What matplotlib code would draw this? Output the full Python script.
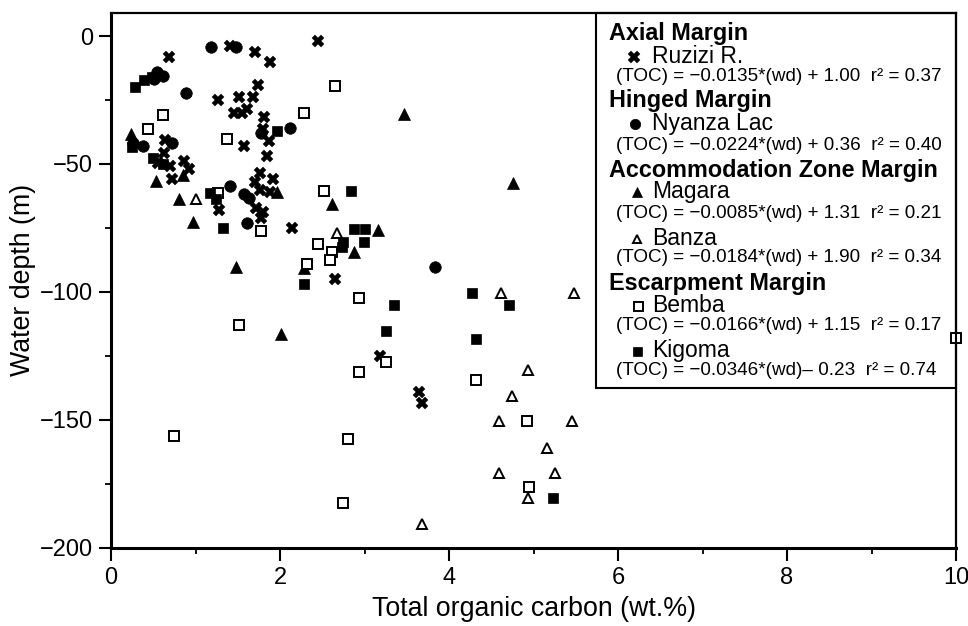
import numpy as np
import matplotlib
matplotlib.use("Agg")
import matplotlib.pyplot as plt
from matplotlib.patches import Rectangle

plt.rcParams['font.family'] = ['Liberation Sans', 'DejaVu Sans']

# TOC (wt.%) and water depth (m) per site
ruzizi_toc = [1.41, 1.70, 1.88, 0.69, 2.45, 1.74, 1.27, 1.51, 1.68, 1.45, 1.55, 1.61, 1.81,
              0.64, 0.63, 0.56, 0.70, 0.86, 0.92, 0.72, 1.57, 1.87, 1.85, 1.80, 1.76, 1.70,
              1.76, 1.92, 1.88, 1.72, 1.80, 1.78, 1.28, 2.14, 2.65, 3.18, 3.64, 3.68]
ruzizi_wd = [-4, -6.2, -10, -8.2, -2, -19.3, -25.2, -24, -24, -30, -30, -28.5, -31.6,
             -40.8, -45.8, -49.7, -51, -49, -52, -56, -43.2, -41, -46.9, -36.3, -53.7, -57,
             -60.2, -56, -60.9, -67.4, -68.7, -71.3, -68, -75.2, -95.1, -125.2, -139.3, -143.5]

nyanza_toc = [1.18, 1.48, 0.54, 0.51, 0.61, 0.89, 2.12, 0.26, 0.38, 0.72, 1.41, 1.57,
              1.63, 1.61, 3.83, 1.78]
nyanza_wd = [-4.4, -4.4, -14.2, -17, -15.5, -22.4, -36, -41.9, -43, -41.9, -58.5, -61.8,
             -63.5, -73.3, -90.5, -38]

magara_toc = [0.24, 0.53, 0.85, 0.80, 0.97, 1.96, 2.62, 3.16, 2.87, 2.28, 1.48, 2.01, 3.47, 4.76]
magara_wd = [-38.2, -56.7, -54.3, -63.9, -72.6, -60.9, -65.7, -75.9, -84.6, -90.9, -90.5,
             -116.4, -30.5, -57.6]

banza_toc = [1.01, 2.68, 4.62, 5.48, 4.94, 4.75, 4.59, 5.46, 5.16, 4.59, 5.26, 4.93, 3.68]
banza_wd = [-63.7, -77.2, -100.5, -100.5, -130.5, -140.6, -150.7, -150.7, -160.9, -170.7,
            -170.7, -180.5, -190.7]

bemba_toc = [0.61, 0.44, 1.37, 1.27, 1.77, 2.65, 2.28, 2.52, 2.45, 2.61, 2.59, 2.32, 2.93,
             1.51, 3.25, 2.93, 4.32, 4.92, 2.80, 0.74, 4.95, 2.74, 10.0]
bemba_wd = [-31, -36.4, -40.2, -61.3, -76.3, -19.4, -30.1, -60.5, -81.5, -84.4, -87.4, -89.3,
            -102.3, -113.1, -127.5, -131.5, -134.4, -150.7, -157.6, -156.3, -176.5, -182.7, -118.2]

kigoma_toc = [0.28, 0.39, 0.48, 0.25, 0.50, 0.62, 1.96, 1.17, 1.24, 1.33, 2.84, 2.88, 3.01,
              2.74, 2.73, 2.99, 2.28, 3.35, 4.27, 3.25, 4.32, 4.71, 5.23]
kigoma_wd = [-20, -17.3, -16, -43.5, -47.8, -50.1, -37.3, -61.3, -63.9, -75.2, -60.5, -75.6,
             -75.6, -80.5, -82.4, -80.5, -97, -105.3, -100.3, -115.4, -118.6, -105.3, -180.5]

# legend text
headers = ['Axial Margin', 'Hinged Margin', 'Accommodation Zone Margin', 'Escarpment Margin']
sites = ['Ruzizi R.', 'Nyanza Lac', 'Magara', 'Banza', 'Bemba', 'Kigoma']
equations = ['(TOC) = \u22120.0135*(wd) + 1.00  r\u00b2 = 0.37',
             '(TOC) = \u22120.0224*(wd) + 0.36  r\u00b2 = 0.40',
             '(TOC) = \u22120.0085*(wd) + 1.31  r\u00b2 = 0.21',
             '(TOC) = \u22120.0184*(wd) + 1.90  r\u00b2 = 0.34',
             '(TOC) = \u22120.0166*(wd) + 1.15  r\u00b2 = 0.17',
             '(TOC) = \u22120.0346*(wd)\u2013 0.23  r\u00b2 = 0.74']

W, H = 968, 626
L, R, T, B = 111, 956, 13, 547.5
fig = plt.figure(figsize=(W / 100, H / 100), dpi=100)
ax = fig.add_axes([L / W, 1 - B / H, (R - L) / W, (B - T) / H])

styles = [
    dict(marker='X', ms=8.8, mfc='black', mec='black', mew=0.3),
    dict(marker='o', ms=8.3, mfc='black', mec='black', mew=0.5),
    dict(marker='^', ms=8.3, mfc='black', mec='black', mew=0.5),
    dict(marker='^', ms=7, mfc='white', mec='black', mew=1.4),
    dict(marker='s', ms=7.2, mfc='white', mec='black', mew=1.4),
    dict(marker='s', ms=7.2, mfc='black', mec='black', mew=0.5),
]
series = [(ruzizi_toc, ruzizi_wd), (nyanza_toc, nyanza_wd), (magara_toc, magara_wd),
          (banza_toc, banza_wd), (bemba_toc, bemba_wd), (kigoma_toc, kigoma_wd)]
for (xs, ys), st in zip(series, styles):
    ax.plot(xs, ys, ls='none', clip_on=False, zorder=3, **st)

ax.set_xlim(0, 10)
ax.set_ylim(-200, 9)
ax.set_xticks([0, 2, 4, 6, 8, 10])
ax.set_xticks([1, 3, 5, 7, 9], minor=True)
ax.set_yticks([0, -50, -100, -150, -200])
ax.set_yticks([-25, -75, -125, -175], minor=True)
ax.tick_params(which='major', direction='out', length=9, width=1.5, labelsize=17, pad=4)
ax.tick_params(which='minor', direction='out', length=4, width=1.3)
ax.tick_params(axis='x', which='major', pad=5)
for s in ax.spines.values():
    s.set_linewidth(1.6)
ax.spines['left'].set_linewidth(2.2)
ax.spines['bottom'].set_linewidth(2.2)

ax.set_xlabel('Total organic carbon (wt.%)', fontsize=19.3, labelpad=5)
ax.set_ylabel('Water depth (m)', fontsize=19.3, labelpad=3)


def axpos(px, py):
    return ((px - L) / (R - L), (B - py) / (B - T))


# legend box
x0, y0 = axpos(596, 388)
ax.add_patch(Rectangle((x0, y0), 1 - x0, 1 - y0, transform=ax.transAxes,
                       fill=False, ec='black', lw=1.5, zorder=4, clip_on=False))

header_y = [40, 106.7, 176.7, 290]
for txt, py in zip(headers, header_y):
    ax.text(*axpos(609, py), txt, transform=ax.transAxes, fontsize=16.8,
            fontweight='bold', va='baseline', ha='left')

site_y = [63, 130, 198, 245, 311.7, 356.7]
eq_y = [81, 150, 218, 261.7, 330, 375]
mark_x = [634, 635, 636.7, 636.7, 638, 636.7]
for i in range(6):
    ax.text(*axpos(652, site_y[i]), sites[i], transform=ax.transAxes, fontsize=16.5,
            va='baseline', ha='left')
    ax.text(*axpos(616, eq_y[i]), equations[i], transform=ax.transAxes, fontsize=13.6,
            va='baseline', ha='left')
    st = dict(styles[i])
    st['ms'] = st['ms'] * 0.9
    ax.plot(*axpos(mark_x[i], site_y[i] - 6), transform=ax.transAxes, ls='none',
            clip_on=False, zorder=5, **st)

fig.savefig('out.png', dpi=100, facecolor='w')
